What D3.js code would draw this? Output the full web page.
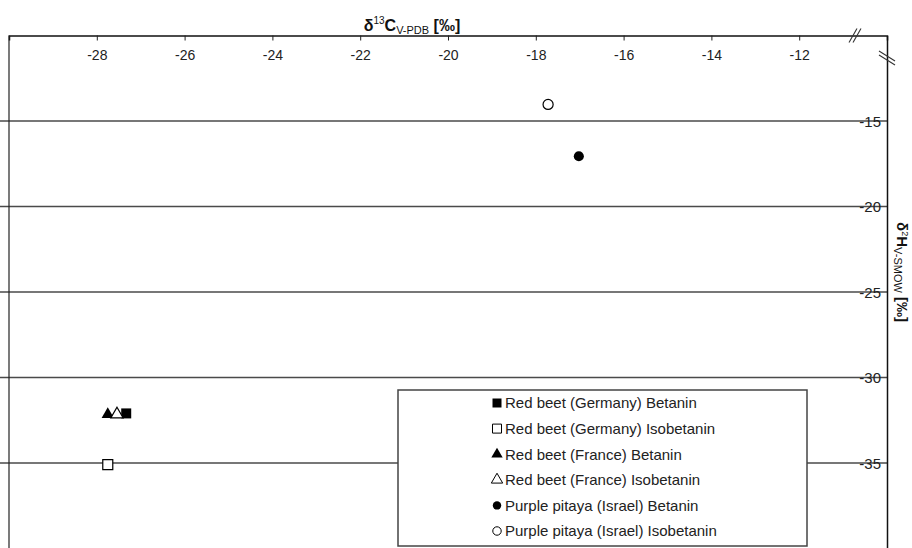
<!DOCTYPE html>
<html><head><meta charset="utf-8">
<script src="https://cdn.jsdelivr.net/npm/d3@7"></script>
<style>body{margin:0;background:#fff;}svg{display:block;}</style>
</head><body>
<svg id="c" width="912" height="548"></svg>
<script>
// ---- data ----
const seriesNames = [
  "Red beet (Germany) Betanin",
  "Red beet (Germany) Isobetanin",
  "Red beet (France) Betanin",
  "Red beet (France) Isobetanin",
  "Purple pitaya (Israel) Betanin",
  "Purple pitaya (Israel) Isobetanin"
];
const d13C = [-27.33, -27.75, -27.75, -27.54, -17.02, -17.72];
const d2H  = [-32.1, -35.1, -32.1, -32.1, -17.06, -14.03];
const shapes = ["square", "square", "triangle", "triangle", "circle", "circle"];
const filled = [true, false, true, false, true, false];
const xTicks = [-28, -26, -24, -22, -20, -18, -16, -14, -12];
const yTicks = [-15, -20, -25, -30, -35];

// ---- chart ----
const svg = d3.select("#c");
const x = d3.scaleLinear().domain([-30, -10]).range([9, 887]);
const y = d3.scaleLinear().domain([-10, -40]).range([35.5, 548.5]);
const fmt = d => String(d);
const narrow = "'Liberation Sans Narrow','Arial Narrow',sans-serif";

const symType = {square: d3.symbolSquare, triangle: d3.symbolTriangle, circle: d3.symbolCircle};
const symSize = {square: 100, triangle: 66, circle: 80};
const legSize = {square: 81, triangle: 56, circle: 56};

// gridlines
svg.append("g").selectAll("line").data(yTicks).join("line")
  .attr("x1", 0).attr("x2", x(-10))
  .attr("y1", d => y(d)).attr("y2", d => y(d))
  .attr("stroke", "#4a4a4a").attr("stroke-width", 1.5);

// top axis
const xAxis = d3.axisBottom(x).tickValues(xTicks).tickSize(5).tickFormat(fmt);
const gx = svg.append("g").attr("transform", `translate(0,${y(-10)})`).call(xAxis);
gx.select(".domain").attr("stroke", "#111").attr("stroke-width", 1.5);
gx.selectAll(".tick line").attr("stroke", "#222");
gx.selectAll(".tick text").attr("font-family", narrow)
  .attr("font-size", 14).attr("fill", "#222").attr("dy", "0.9em").attr("y", 12);

// right axis
const yAxis = d3.axisLeft(y).tickValues(yTicks).tickSize(0).tickFormat(fmt);
const gy = svg.append("g").attr("transform", `translate(${x(-10)},0)`).call(yAxis);
gy.select(".domain").attr("stroke", "#111").attr("stroke-width", 1.5);
gy.selectAll(".tick text").attr("font-family", narrow)
  .attr("font-size", 15).attr("fill", "#222").attr("x", -6).attr("dy", "0.36em");

// left frame line
svg.append("line").attr("x1", x(-30)).attr("x2", x(-30)).attr("y1", y(-10)).attr("y2", y(-40))
  .attr("stroke", "#222").attr("stroke-width", 1.2);

// break marks
const bx = 855, by = y(-10);
[-2, 2].forEach(o => {
  svg.append("line").attr("x1", bx + o - 4).attr("y1", by + 7).attr("x2", bx + o + 4).attr("y2", by - 7)
    .attr("stroke", "#333").attr("stroke-width", 1.1);
});
const rx = x(-10), ry = 58;
[-2, 2].forEach(o => {
  svg.append("line").attr("x1", rx - 8).attr("y1", ry + o - 5).attr("x2", rx + 8).attr("y2", ry + o + 5)
    .attr("stroke", "#333").attr("stroke-width", 1.1);
});

// titles
const t1 = svg.append("text").attr("x", 412).attr("y", 31).attr("text-anchor", "middle")
  .attr("font-family", narrow).attr("font-weight", "bold").attr("font-size", 16).attr("fill", "#111");
t1.append("tspan").text("δ");
t1.append("tspan").text("13").attr("font-size", 10).attr("font-weight", "normal").attr("dy", -7);
t1.append("tspan").text("C").attr("dy", 7);
t1.append("tspan").text("V-PDB").attr("font-size", 11).attr("font-weight", "normal").attr("dy", 3);
t1.append("tspan").text(" [‰]").attr("dy", -3);

const t2 = svg.append("text").attr("transform", `translate(897,272) rotate(90)`).attr("text-anchor", "middle")
  .attr("font-family", narrow).attr("font-weight", "bold").attr("font-size", 15).attr("fill", "#111");
t2.append("tspan").text("δ");
t2.append("tspan").text("2").attr("font-size", 9).attr("font-weight", "normal").attr("dy", -5);
t2.append("tspan").text("H").attr("dy", 5);
t2.append("tspan").text("V-SMOW").attr("font-size", 11).attr("font-weight", "normal").attr("dy", 3);
t2.append("tspan").text(" [‰]").attr("dy", -3);

// points
const pts = seriesNames.map((n, i) => ({n, x: d13C[i], y: d2H[i], s: shapes[i], f: filled[i]}));
svg.append("g").selectAll("path").data(pts).join("path")
  .attr("transform", d => `translate(${x(d.x)},${y(d.y) + (d.s === "triangle" ? 1 : 0)})`)
  .attr("d", d => d3.symbol().type(symType[d.s]).size(symSize[d.s])())
  .attr("fill", d => d.f ? "#000" : "#fff")
  .attr("stroke", "#000").attr("stroke-width", d => d.f ? 0 : 1.2);

// legend
const lg = svg.append("g");
lg.append("rect").attr("x", 398).attr("y", 390).attr("width", 409).attr("height", 156)
  .attr("fill", "#fff").attr("stroke", "#444").attr("stroke-width", 1.5);
const rows = lg.selectAll("g.item").data(pts).join("g").attr("class", "item")
  .attr("transform", (d, i) => `translate(497,${403 + i * 25.6})`);
rows.append("path")
  .attr("d", d => d3.symbol().type(symType[d.s]).size(legSize[d.s])())
  .attr("fill", d => d.f ? "#000" : "#fff")
  .attr("stroke", "#000").attr("stroke-width", d => d.f ? 0 : 1);
rows.append("text").attr("x", 8).attr("dy", "0.36em")
  .attr("font-family", "'Liberation Sans',Arial,sans-serif").attr("font-size", 15).attr("fill", "#222")
  .text(d => d.n);
</script>
</body></html>
